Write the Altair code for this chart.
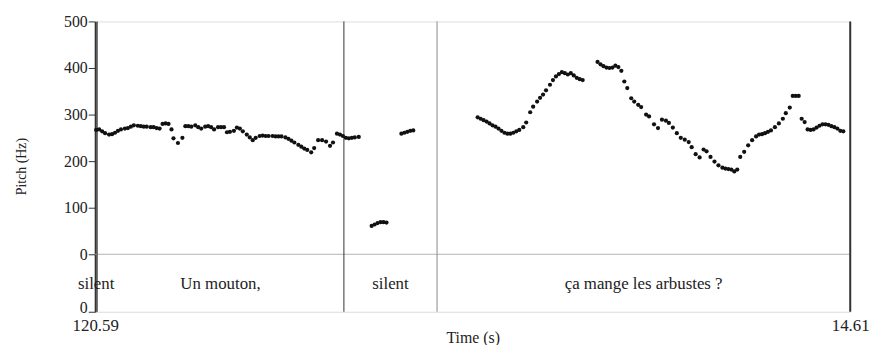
import altair as alt
import pandas as pd

# ---- pitch track (time in s from start of excerpt, pitch in Hz) ----
time_a = [0.004, 0.016, 0.028, 0.040, 0.056, 0.068, 0.080, 0.092, 0.104, 0.120,
          0.132, 0.144, 0.156, 0.172, 0.184, 0.196, 0.208, 0.224, 0.236, 0.248,
          0.260, 0.272, 0.284, 0.296, 0.308, 0.316, 0.334, 0.352, 0.364, 0.376,
          0.388, 0.404, 0.416, 0.428, 0.444, 0.456, 0.468, 0.480, 0.496, 0.508,
          0.520, 0.532, 0.544, 0.560, 0.572, 0.584, 0.596, 0.612, 0.624, 0.636,
          0.648, 0.664, 0.676, 0.688, 0.700, 0.716, 0.728, 0.740, 0.752, 0.768,
          0.780, 0.792, 0.804, 0.820, 0.832, 0.844, 0.856, 0.872, 0.884, 0.900,
          0.916, 0.932, 0.948, 0.960, 0.976, 0.988, 1.000, 1.012, 1.024, 1.036,
          1.048, 1.064]
pitch_a = [267, 268, 264, 260, 257, 258, 261, 265, 268, 270,
           271, 274, 277, 276, 275, 274, 274, 273, 273, 271,
           270, 280, 281, 280, 268, 249, 239, 250, 275, 275,
           274, 277, 273, 270, 274, 275, 273, 268, 273, 273,
           273, 262, 263, 265, 272, 270, 264, 257, 251, 245,
           250, 254, 255, 254, 254, 254, 253, 253, 253, 251,
           248, 244, 240, 235, 231, 227, 224, 219, 228, 245,
           245, 242, 233, 240, 259, 257, 254, 250, 249, 250,
           251, 252]

time_b = [1.116, 1.128, 1.140, 1.152, 1.164, 1.176,
          1.236, 1.248, 1.260, 1.272, 1.284]
pitch_b = [61, 64, 67, 69, 69, 68,
           259, 261, 263, 265, 266]

time_c = [1.544, 1.556, 1.568, 1.580, 1.592, 1.604, 1.616, 1.628, 1.640, 1.652,
          1.664, 1.676, 1.688, 1.700, 1.712, 1.728, 1.740, 1.756, 1.768, 1.784,
          1.796, 1.808, 1.820, 1.836, 1.848, 1.860, 1.872, 1.884, 1.896, 1.908,
          1.920, 1.932, 1.944, 1.956, 1.968,
          2.028, 2.040, 2.052, 2.064, 2.076, 2.088, 2.100, 2.112, 2.124, 2.136,
          2.148, 2.164, 2.176, 2.192, 2.204, 2.224, 2.236, 2.256, 2.272, 2.288,
          2.304, 2.316, 2.332, 2.348, 2.364, 2.380, 2.396, 2.408, 2.424, 2.440,
          2.456, 2.468, 2.484, 2.500, 2.516, 2.532, 2.544, 2.556, 2.568, 2.580,
          2.592, 2.604, 2.620, 2.636, 2.652, 2.668, 2.680, 2.692, 2.704, 2.716,
          2.728, 2.744, 2.760, 2.776, 2.788, 2.804, 2.816, 2.828, 2.840, 2.852,
          2.864, 2.876, 2.888, 2.900, 2.912, 2.924, 2.936, 2.948, 2.960, 2.972,
          2.984, 2.996, 3.008, 3.020]
pitch_c = [294, 291, 288, 285, 281, 277, 274, 270, 265, 261,
           259, 259, 261, 264, 267, 273, 283, 305, 317, 328,
           336, 343, 352, 364, 374, 382, 387, 391, 389, 386,
           389, 384, 379, 376, 374,
           413, 408, 404, 401, 400, 401, 405, 402, 394, 371,
           357, 335, 328, 321, 316, 300, 296, 279, 271, 289,
           287, 282, 272, 260, 250, 246, 241, 230, 215, 208,
           225, 221, 209, 199, 191, 186, 184, 183, 182, 178,
           182, 209, 220, 234, 245, 253, 257, 258, 260, 263,
           266, 273, 281, 291, 303, 315, 340, 340, 340, 291,
           284, 268, 267, 268, 272, 276, 279, 279, 278, 275,
           273, 270, 265, 264]

# ---- text tier ----
tier_start = [0.000, 0.008, 1.004, 1.380]
tier_end = [0.008, 1.004, 1.380, 3.048]
tier_text = ["silent", "Un mouton,", "silent", "ça mange les arbustes ?"]
tier_level = -64
boundary_t = [0.008, 1.004, 1.380]
boundary_col = ["#333333", "#333333", "#8a8a8a"]

T_END = 3.048
Y_MIN = -123.4
Y_MAX = 500
x_ticks = [0.0, T_END]
x_labels = ["120.59", "14.61"]
y_ticks = [Y_MIN, 0, 100, 200, 300, 400, 500]

FONT = "Liberation Serif"

pitch_df = pd.DataFrame({"t": time_a + time_b + time_c,
                         "f0": pitch_a + pitch_b + pitch_c})
tier_df = pd.DataFrame({"start": tier_start, "end": tier_end, "label": tier_text})
tier_df["t"] = (tier_df["start"] + tier_df["end"]) / 2
tier_df["f0"] = tier_level
bound_df = pd.DataFrame({"t": boundary_t, "col": boundary_col})

xscale = alt.Scale(domain=[0, T_END], nice=False, zero=False)
yscale = alt.Scale(domain=[Y_MIN, Y_MAX], nice=False, zero=False)

label_expr_x = f"datum.value < 1 ? '{x_labels[0]}' : '{x_labels[1]}'"

x_axis = alt.Axis(values=x_ticks, labelExpr=label_expr_x, ticks=False,
                  domain=False, grid=False, title="Time (s)",
                  labelFont=FONT, labelFontSize=17, labelColor="#222",
                  labelPadding=6, titleFont=FONT, titleFontSize=16,
                  titleFontWeight="normal", titleColor="#222",
                  titlePadding=-4, labelFlush=False, labelOverlap=False)
y_axis = alt.Axis(values=y_ticks,
                  labelExpr="datum.value < -1 ? '0' : datum.label",
                  labelOffset={"condition": {"test": "datum.value < -1", "value": -4},
                               "value": 0},
                  grid=False, tickSize=7, tickColor="#333",
                  domainColor="#333", domainWidth=2,
                  labelFont=FONT, labelFontSize=16, labelColor="#222",
                  labelPadding=1, labelFlush=False, labelOverlap=False,
                  title="Pitch (Hz)", titleFont=FONT, titleFontSize=14,
                  titleFontWeight="normal", titleColor="#222",
                  titleAngle=270, titleX=-74, titleY=146,
                  titleAlign="center", titleBaseline="middle")

zero_line = alt.Chart(pd.DataFrame({"f0": [0]})).mark_rule(
    color="#b4b4b4", strokeWidth=1).encode(
    y=alt.Y("f0:Q", scale=yscale, axis=y_axis))

bounds = alt.Chart(bound_df).mark_rule(strokeWidth=1).encode(
    x=alt.X("t:Q", scale=xscale, axis=x_axis),
    color=alt.Color("col:N", scale=None))

right_edge = alt.Chart(pd.DataFrame({"t": [T_END]})).mark_rule(
    color="#333333", strokeWidth=2).encode(
    x=alt.X("t:Q", scale=xscale, axis=x_axis))

points = alt.Chart(pitch_df).mark_circle(size=18, color="#111111", opacity=1).encode(
    x=alt.X("t:Q", scale=xscale, axis=x_axis),
    y=alt.Y("f0:Q", scale=yscale, axis=y_axis),
)

tier_text_layer = alt.Chart(tier_df).mark_text(
    font=FONT, fontSize=17, color="#222", baseline="middle", align="center").encode(
    x=alt.X("t:Q", scale=xscale, axis=x_axis),
    y=alt.Y("f0:Q", scale=yscale, axis=y_axis),
    text="label:N")

chart = alt.layer(zero_line, bounds, right_edge, points, tier_text_layer).properties(
    width=762, height=293,
    autosize=alt.AutoSizeParams(type="none"),
    padding={"left": 88, "top": 12, "right": 24, "bottom": 32},
).configure_view(stroke="#8a8a8a", strokeWidth=1).configure(background="white")

chart.save("out.html", embed_options={"renderer": "svg", "actions": False})
